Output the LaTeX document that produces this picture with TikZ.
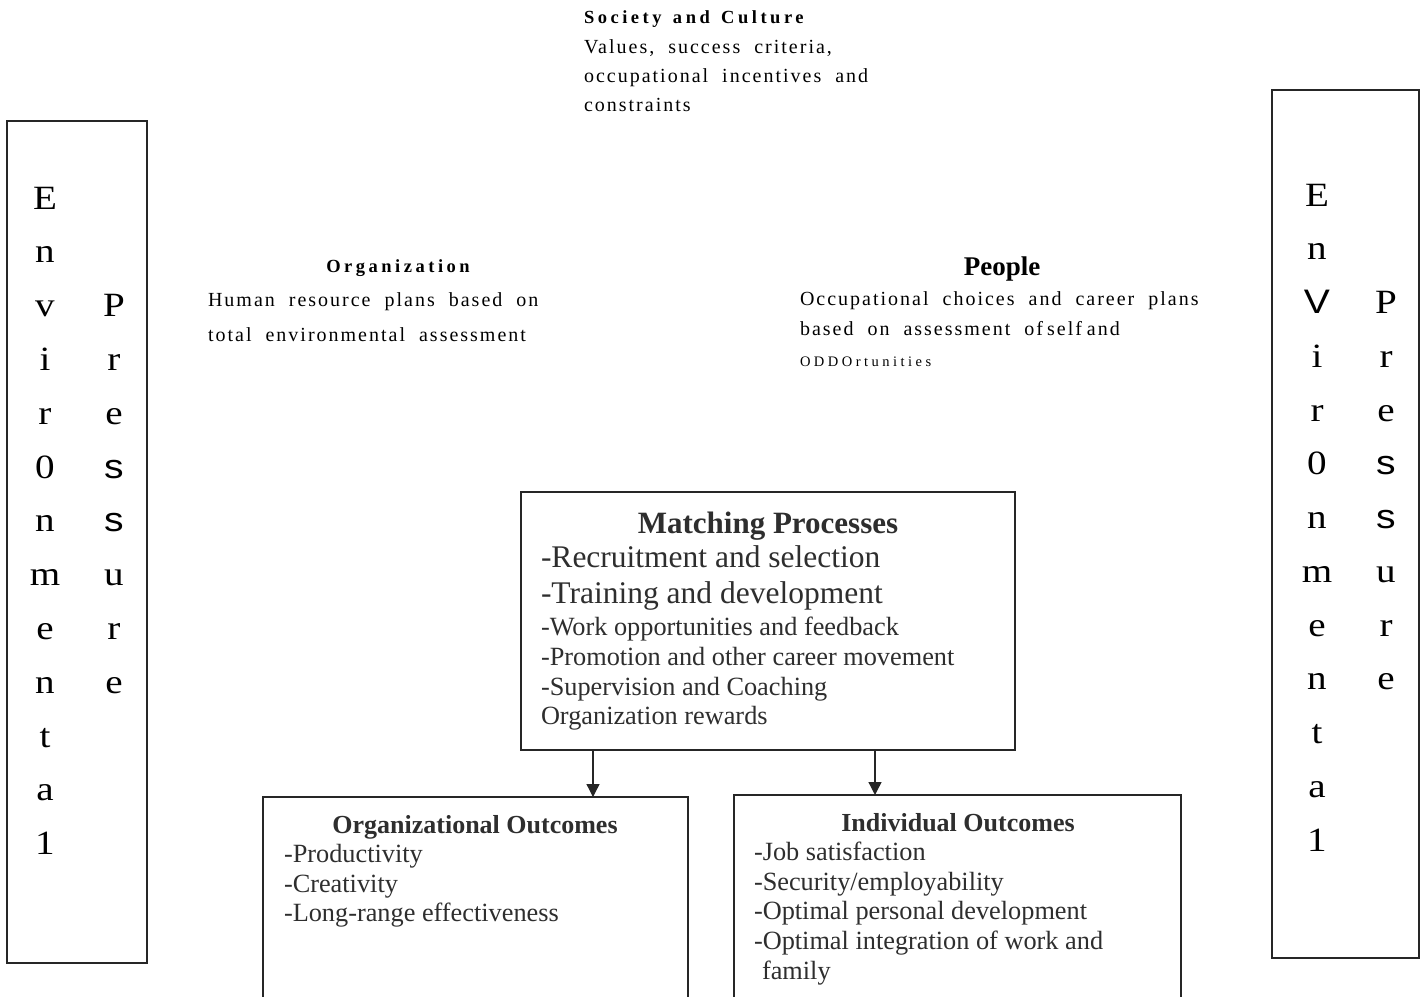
\documentclass[tikz,border=0pt]{standalone}
\usepackage{graphicx}
\usepackage{fontspec}
\setmainfont{Liberation Serif}
\newfontfamily\trk[LetterSpace=10,WordSpace=2]{Liberation Serif}
\newfontfamily\trkb[LetterSpace=19,WordSpace=1.4]{Liberation Serif}
\newfontfamily\trks[LetterSpace=24]{Liberation Serif}
\newfontfamily\sansalt{Liberation Sans}
\usetikzlibrary{arrows.meta}
\newcommand\fsz[1]{\fontsize{#1}{#1}\selectfont}
\colorlet{ink}{black!82}
\tikzset{
  box/.style={draw=black!85, line width=1.3pt, inner sep=0pt, outer sep=0pt, anchor=north west},
  txt/.style={anchor=base west, inner sep=0pt, outer sep=0pt},
  ctxt/.style={anchor=base, inner sep=0pt, outer sep=0pt},
  arr/.style={draw=black!85, line width=1.3pt, -{Triangle[width=13pt,length=13pt]}},
  vl/.style={anchor=base, inner sep=0pt, font=\fsz{34}},
  small/.style={txt, font=\trk\fsz{20}},
  head/.style={font=\trkb\bfseries\fsz{18.5}},
  bigitem/.style={txt, text=ink, font=\fsz{31.5}},
  item/.style={txt, text=ink, font=\fsz{26.3}},
  boxhead/.style={ctxt, text=ink, font=\bfseries\fsz{26}},
}
\begin{document}
\begin{tikzpicture}[x=1pt,y=-1pt]
\fill[white] (0,0) rectangle (1423,996);
\useasboundingbox (0,0) rectangle (1423,996);

% side boxes
\node[box, minimum width=140pt, minimum height=842pt] (lbox) at (7,121) {};
\node[box, minimum width=147pt, minimum height=868pt] (rbox) at (1272,90) {};

\foreach \c [count=\i from 0] in {E,n,v,i,r,0,n,m,e,n,t,a,1}
  \node[vl] (la\i) at (45,{209+53.8*\i}) {\scalebox{1.15}[1]{\c}};
\foreach \c [count=\i from 2] in {P,r,e,{\sansalt s},{\sansalt s},u,r,e}
  \node[vl] (lb\i) at (114,{209+53.8*\i}) {\scalebox{1.15}[1]{\c}};
\foreach \c [count=\i from 0] in {E,n,{\sansalt V},i,r,0,n,m,e,n,t,a,1}
  \node[vl] (ra\i) at (1317,{206+53.75*\i}) {\scalebox{1.15}[1]{\c}};
\foreach \c [count=\i from 2] in {P,r,e,{\sansalt s},{\sansalt s},u,r,e}
  \node[vl] (rb\i) at (1386,{206+53.75*\i}) {\scalebox{1.15}[1]{\c}};

% society and culture
\node[txt, head] (soc) at (584,23) {Society and Culture};
\node[small] (soc1) at (584,53) {Values, success criteria,};
\node[small] (soc2) at (584,82) {occupational incentives and};
\node[small] (soc3) at (584,111) {constraints};

% organization
\node[ctxt, head] (org) at (398,272) {Organization};
\node[small] (org1) at (208,306) {Human resource plans based on};
\node[small] (org2) at (208,341) {total environmental assessment};

% people
\node[ctxt, font=\bfseries\fsz{27}] (ppl) at (1002,275) {People};
\node[small] (ppl1) at (800,305) {Occupational choices and career plans};
\node[small] (ppl2) at (800,335) {based on assessment of\hspace{4pt}self\hspace{5pt}and};
\node[txt, font=\trks\fsz{14.5}] (ppl3) at (800,366) {ODDOrtunities};

% matching processes
\node[box, minimum width=494pt, minimum height=258pt] (mp) at (521,492) {};
\node[ctxt, text=ink, font=\bfseries\fsz{31}] (mph) at (768,533) {Matching Processes};
\node[bigitem] (mp1) at (541,567) {-Recruitment and selection};
\node[bigitem] (mp2) at (541,603) {-Training and development};
\node[item] (mp3) at (541,635) {-Work opportunities and feedback};
\node[item] (mp4) at (541,665) {-Promotion and other career movement};
\node[item] (mp5) at (541,695) {-Supervision and Coaching};
\node[item] (mp6) at (541,724) {Organization rewards};

% organizational outcomes
\node[box, minimum width=425pt, minimum height=220pt] (oo) at (263,797) {};
\node[boxhead] (ooh) at (475,833) {Organizational Outcomes};
\node[item] (oo1) at (284,862) {-Productivity};
\node[item] (oo2) at (284,892) {-Creativity};
\node[item] (oo3) at (284,921) {-Long-range effectiveness};

% individual outcomes
\node[box, minimum width=447pt, minimum height=220pt] (io) at (734,795) {};
\node[boxhead] (ioh) at (958,831) {Individual Outcomes};
\node[item] (io1) at (754,860) {-Job satisfaction};
\node[item] (io2) at (754,890) {-Security/employability};
\node[item] (io3) at (754,919) {-Optimal personal development};
\node[item] (io4) at (754,949) {-Optimal integration of work and};
\node[item] (io5) at (762,979) {family};

% arrows
\coordinate (a1) at (593,0);
\coordinate (a2) at (875,0);
\draw[arr] (mp.south -| a1) -- (oo.north -| a1);
\draw[arr] (mp.south -| a2) -- (io.north -| a2);
\end{tikzpicture}
\end{document}
